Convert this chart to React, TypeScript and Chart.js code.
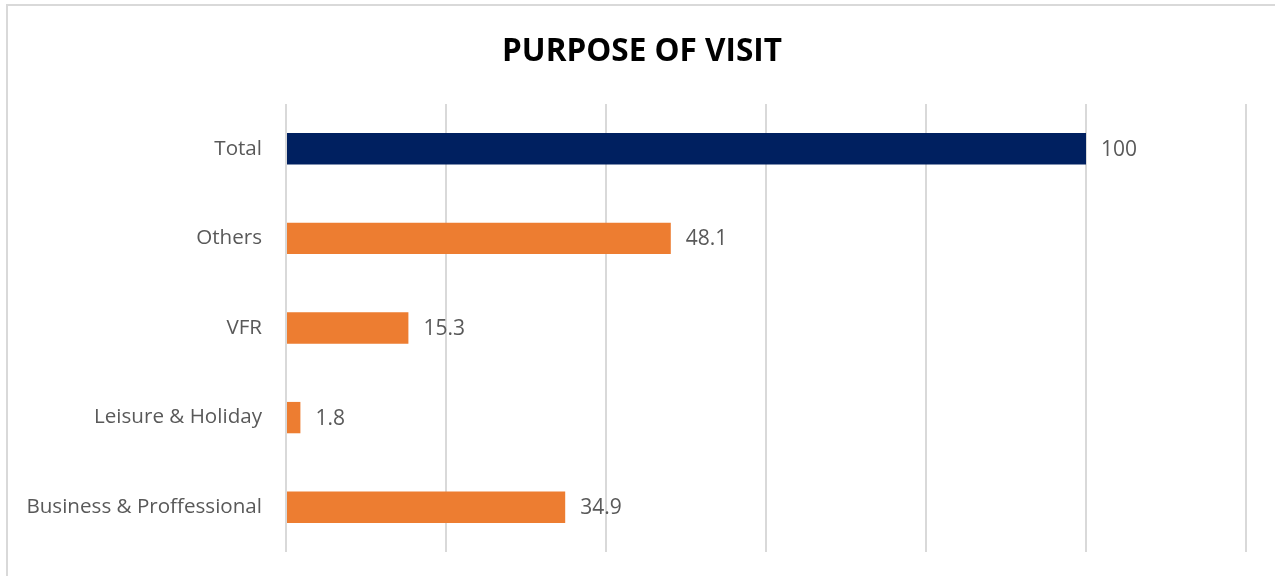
import React, { useEffect, useRef } from "react";
import { Chart, registerables } from "chart.js";

Chart.register(...registerables);

const categories = ["Total", "Others", "VFR", "Leisure & Holiday", "Business & Proffessional"];
const values = [100, 48.1, 15.3, 1.8, 34.9];
const barColors = ["#002060", "#ED7D31", "#ED7D31", "#ED7D31", "#ED7D31"];
const titleText = "PURPOSE OF VISIT";
const xMax = 120;
const xStep = 20;

const FONT = "'Open Sans', sans-serif";

const titlePlugin = {
  id: "customTitle",
  afterDraw(chart: any) {
    const ctx = chart.ctx;
    ctx.save();
    ctx.font = `bold 31.5px ${FONT}`;
    ctx.fillStyle = "#000000";
    ctx.textAlign = "center";
    ctx.textBaseline = "middle";
    ctx.fillText(titleText, 642, 52);
    ctx.restore();
  },
};

const valueLabelPlugin = {
  id: "valueLabels",
  afterDatasetsDraw(chart: any) {
    const ctx = chart.ctx;
    const meta = chart.getDatasetMeta(0);
    ctx.save();
    ctx.font = `21px ${FONT}`;
    ctx.fillStyle = "#595959";
    ctx.textAlign = "left";
    ctx.textBaseline = "middle";
    meta.data.forEach((bar: any, i: number) => {
      ctx.fillText(String(values[i]), bar.x + 15, bar.y + 1);
    });
    ctx.restore();
  },
};

export default function App() {
  const canvasRef = useRef<HTMLCanvasElement | null>(null);

  useEffect(() => {
    if (!canvasRef.current) return;
    const chart = new Chart(canvasRef.current, {
      type: "bar",
      data: {
        labels: categories,
        datasets: [
          {
            data: values,
            backgroundColor: barColors,
            borderWidth: 0,
            categoryPercentage: 1,
            barPercentage: 0.35,
          },
        ],
      },
      options: {
        indexAxis: "y",
        animation: false,
        responsive: false,
        maintainAspectRatio: false,
        layout: { padding: { top: 104, bottom: 24, left: 0, right: 29 } },
        plugins: {
          legend: { display: false },
          title: { display: false },
          tooltip: { enabled: false },
        },
        scales: {
          x: {
            min: 0,
            max: xMax,
            ticks: { display: false, stepSize: xStep },
            grid: { color: "#d9d9d9", lineWidth: 2, drawTicks: false },
            border: { display: false },
            afterFit(scale: any) {
              scale.height = 0;
              scale.paddingLeft = 0;
              scale.paddingRight = 0;
            },
          },
          y: {
            grid: { display: false, drawTicks: false },
            border: { display: false },
            ticks: {
              color: "#595959",
              font: { family: FONT, size: 20.6 },
              padding: 24,
            },
            afterFit(scale: any) {
              scale.width = 286;
              scale.paddingTop = 0;
              scale.paddingBottom = 0;
            },
          },
        },
      },
      plugins: [titlePlugin, valueLabelPlugin],
    });
    return () => chart.destroy();
  }, []);

  return (
    <div style={{ position: "fixed", left: 0, top: 0, width: 1275, height: 576, background: "#ffffff", overflow: "hidden" }}>
      <div
        style={{
          position: "absolute",
          left: 6,
          top: 4,
          width: 1290,
          height: 600,
          border: "2px solid #d9d9d9",
          boxSizing: "border-box",
        }}
      />
      <canvas ref={canvasRef} width={1275} height={576} style={{ position: "absolute", left: 0, top: 0 }} />
    </div>
  );
}
